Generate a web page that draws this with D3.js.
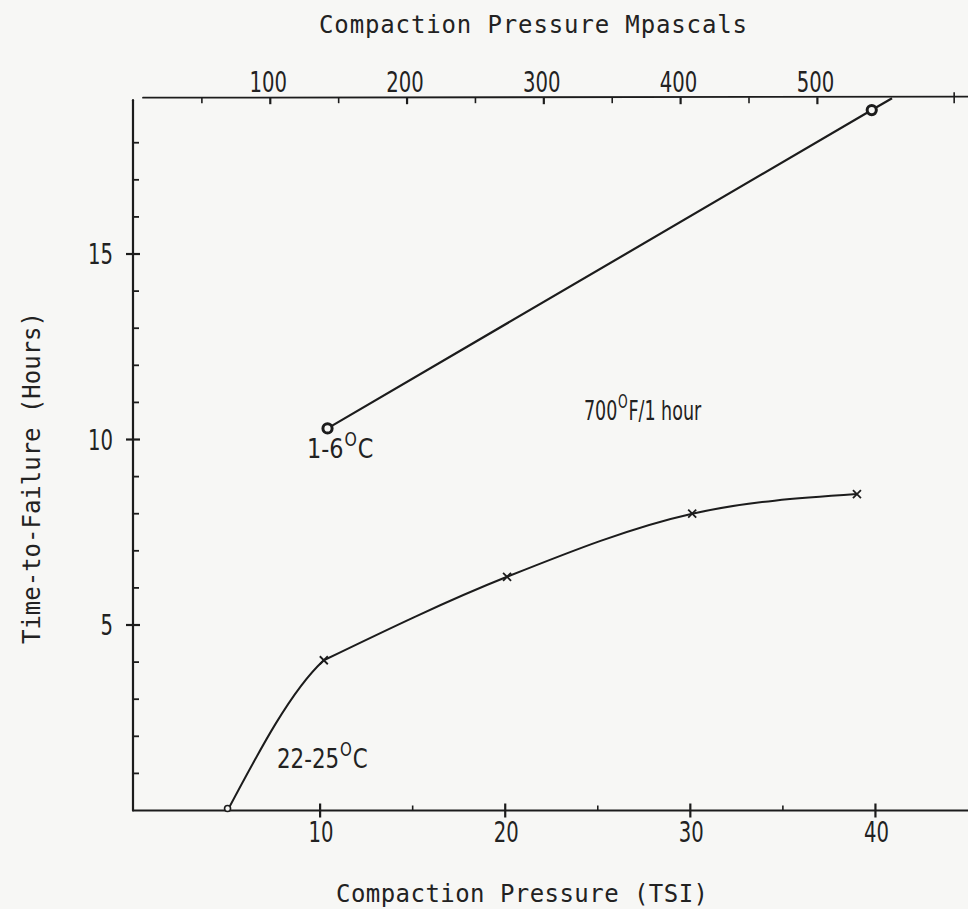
<!DOCTYPE html>
<html>
<head>
<meta charset="utf-8">
<script src="https://cdn.jsdelivr.net/npm/d3@7"></script>
<style>
  html, body { margin: 0; padding: 0; background: #f7f7f5; }
  svg { display: block; }
  .num { font-family: "Liberation Sans Narrow", "DejaVu Sans Condensed", "DejaVu Sans", sans-serif; font-stretch: condensed; fill: #222; }
  .title { font-family: "DejaVu Sans Mono", "Liberation Mono", monospace; fill: #222; }
</style>
</head>
<body>
<svg id="chart" width="968" height="909"></svg>
<script>
// Time-to-failure vs compaction pressure, two compaction temperatures

// 1-6 °C compaction series (straight fit)
const coldTsi   = [10.4, 39.8];
const coldHours = [10.3, 18.88];

// 22-25 °C compaction series
const roomTsi   = [5, 10.2, 20.1, 30.1, 39.0];
const roomHours = [0, 4.05, 6.3, 8.0, 8.53];

// axis ticks
const tsiMajor   = [10, 20, 30, 40];
const tsiMinor   = [5, 15, 25, 35];
const mpaLabeled = [100, 200, 300, 400, 500];
const mpaMinor   = [50, 150, 250, 350, 450, 600];
const hourMajor  = [5, 10, 15];
const hourMinor  = [1, 2, 3, 4, 6, 7, 8, 9, 11, 12, 13, 14, 16, 17, 18];

const tsiMax = 45;
const mpaPerTsi = 13.55;
const hourMax = 19.2;

const svg = d3.select("#chart");
const ink = "#1c1c1c";
const paper = "#f7f7f5";

const x = d3.scaleLinear().domain([0, tsiMax]).range([135, 968]);
const mpa = d3.scaleLinear().domain([0, tsiMax * mpaPerTsi]).range([133.5, 967.5]);
const y = d3.scaleLinear().domain([0, hourMax]).range([810.5, 98.2]);

const x0 = x(0), yBase = y(0), yTop = y(hourMax);

// narrow lettering for the numerals
const narrow = 0.78;
const numText = (sel, fx, fy) => sel
  .attr("class", "num")
  .attr("transform", d => `translate(${fx(d)},${fy(d)}) scale(${narrow},1)`);

// ---- frame lines ----
const frame = svg.append("g").attr("stroke", ink).attr("fill", "none").attr("stroke-linecap", "round");
frame.append("line").attr("x1", x0 - 2).attr("x2", 968).attr("y1", yBase).attr("y2", yBase).attr("stroke-width", 2);
frame.append("line").attr("x1", x0 - 2).attr("x2", x0 - 2).attr("y1", yBase).attr("y2", yTop + 2).attr("stroke-width", 2.2);
frame.append("line").attr("x1", x0 + 8).attr("x2", 968).attr("y1", yTop - 0.5).attr("y2", yTop - 1.5).attr("stroke-width", 1.8);

// ---- bottom axis (TSI) ----
const bottomAxis = svg.append("g");
bottomAxis.selectAll("line.maj").data(tsiMajor).join("line")
  .attr("class", "maj")
  .attr("x1", d => x(d)).attr("x2", d => x(d))
  .attr("y1", yBase - 7).attr("y2", yBase + 7)
  .attr("stroke", ink).attr("stroke-width", 2.2);
bottomAxis.selectAll("line.min").data(tsiMinor).join("line")
  .attr("class", "min")
  .attr("x1", d => x(d)).attr("x2", d => x(d))
  .attr("y1", yBase - 5).attr("y2", yBase)
  .attr("stroke", ink).attr("stroke-width", 1.6);
bottomAxis.selectAll("text").data(tsiMajor).join("text")
  .call(numText, d => x(d) + 1, () => yBase + 31.5)
  .attr("text-anchor", "middle").attr("font-size", 28)
  .text(d => d);

// ---- top axis (MPa) ----
const topAxis = svg.append("g");
topAxis.selectAll("line.maj").data(mpaLabeled).join("line")
  .attr("class", "maj")
  .attr("x1", d => mpa(d)).attr("x2", d => mpa(d))
  .attr("y1", yTop - 1).attr("y2", yTop + 6)
  .attr("stroke", ink).attr("stroke-width", 2.2);
topAxis.selectAll("line.min").data(mpaMinor).join("line")
  .attr("class", "min")
  .attr("x1", d => mpa(d)).attr("x2", d => mpa(d))
  .attr("y1", d => d === 600 ? yTop - 6 : yTop - 1).attr("y2", yTop + 5)
  .attr("stroke", ink).attr("stroke-width", 1.6);
topAxis.selectAll("text").data(mpaLabeled).join("text")
  .call(numText, d => mpa(d) - 2, () => yTop - 6.5)
  .attr("text-anchor", "middle").attr("font-size", 28)
  .text(d => d);

// ---- left axis (hours) ----
const leftAxis = svg.append("g");
leftAxis.selectAll("line.maj").data(hourMajor).join("line")
  .attr("class", "maj")
  .attr("x1", x0 - 9).attr("x2", x0 + 5)
  .attr("y1", d => y(d)).attr("y2", d => y(d))
  .attr("stroke", ink).attr("stroke-width", 2.2);
leftAxis.selectAll("line.min").data(hourMinor).join("line")
  .attr("class", "min")
  .attr("x1", x0 - 2).attr("x2", x0 + 4)
  .attr("y1", d => y(d)).attr("y2", d => y(d))
  .attr("stroke", ink).attr("stroke-width", 1.8);
leftAxis.selectAll("text").data(hourMajor).join("text")
  .call(numText, () => x0 - 22, d => y(d) + 10)
  .attr("text-anchor", "end").attr("font-size", 28)
  .text(d => d);

// ---- axis titles ----
svg.append("text").attr("class", "title")
  .attr("x", 319).attr("y", 33)
  .attr("font-size", 24)
  .attr("textLength", 428).attr("lengthAdjust", "spacing")
  .text("Compaction Pressure Mpascals");

svg.append("text").attr("class", "title")
  .attr("x", 336).attr("y", 902)
  .attr("font-size", 24)
  .attr("textLength", 372).attr("lengthAdjust", "spacing")
  .text("Compaction Pressure (TSI)");

svg.append("text").attr("class", "title")
  .attr("transform", "translate(40,478) rotate(-90)")
  .attr("text-anchor", "middle")
  .attr("font-size", 24)
  .attr("textLength", 332).attr("lengthAdjust", "spacing")
  .text("Time-to-Failure (Hours)");

// ---- 1-6 °C series: straight line carried on to the top frame ----
const cold = coldTsi.map((t, i) => [t, coldHours[i]]);
const slope = (cold[1][1] - cold[0][1]) / (cold[1][0] - cold[0][0]);
const coldEnd = [cold[1][0] + (hourMax - cold[1][1]) / slope, hourMax];
const linePath = d3.line().x(d => x(d[0])).y(d => y(d[1]));

svg.append("path")
  .attr("d", linePath([cold[0], cold[1], coldEnd]))
  .attr("fill", "none").attr("stroke", ink).attr("stroke-width", 2.2);

svg.selectAll("circle.cold").data(cold).join("circle")
  .attr("class", "cold")
  .attr("cx", d => x(d[0])).attr("cy", d => y(d[1]))
  .attr("r", 4.6).attr("fill", paper)
  .attr("stroke", ink).attr("stroke-width", 3);

// ---- 22-25 °C series: smooth curve with a break in slope at the second point ----
const room = roomTsi.map((t, i) => [t, roomHours[i]]);
const curvePath = d3.line().x(d => x(d[0])).y(d => y(d[1])).curve(d3.curveMonotoneX);

svg.append("clipPath").attr("id", "firstLeg")
  .append("rect")
  .attr("x", 0).attr("y", 0)
  .attr("width", x(room[1][0])).attr("height", 909);

svg.append("path")
  .attr("d", curvePath(room.slice(0, 3)))
  .attr("clip-path", "url(#firstLeg)")
  .attr("fill", "none").attr("stroke", ink).attr("stroke-width", 2);

svg.append("path")
  .attr("d", curvePath(room.slice(1)))
  .attr("fill", "none").attr("stroke", ink).attr("stroke-width", 2);

svg.append("circle")
  .attr("cx", x(room[0][0])).attr("cy", y(room[0][1]) - 2)
  .attr("r", 3).attr("fill", paper)
  .attr("stroke", ink).attr("stroke-width", 1.6);

const cross = svg.append("g").attr("stroke", ink).attr("stroke-width", 1.8);
room.slice(1).forEach(d => {
  const cx = x(d[0]), cy = y(d[1]);
  cross.append("line").attr("x1", cx - 4).attr("y1", cy - 4).attr("x2", cx + 4).attr("y2", cy + 4);
  cross.append("line").attr("x1", cx - 4).attr("y1", cy + 4).attr("x2", cx + 4).attr("y2", cy - 4);
});

// ---- annotations ----
function degreeLabel(px, py, before, after, sx) {
  const t = svg.append("text").attr("class", "num")
    .attr("transform", `translate(${px},${py}) scale(${sx},1)`)
    .attr("font-size", 27);
  t.append("tspan").text(before);
  t.append("tspan").attr("font-size", 19).attr("dy", -12).attr("dx", 1).text("O");
  t.append("tspan").attr("dy", 12).attr("dx", 1).text(after);
}
degreeLabel(307, 458, "1-6", "C", 0.92);
degreeLabel(584, 420, "700", "F/1 hour", 0.72);
degreeLabel(277, 768, "22-25", "C", 0.88);
</script>
</body>
</html>
